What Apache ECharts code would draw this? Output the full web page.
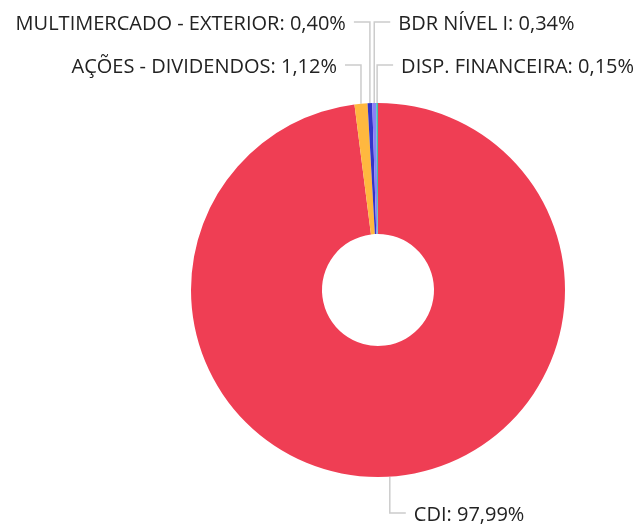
<!DOCTYPE html>
<html>
<head>
<meta charset="utf-8">
<script src="https://cdn.jsdelivr.net/npm/echarts@6/dist/echarts.min.js"></script>
<style>
  html, body { margin: 0; padding: 0; background: #fff; }
  #chart { width: 635px; height: 526px; }
</style>
</head>
<body>
<div id="chart"></div>
<script>
const categories = ['CDI', 'AÇÕES - DIVIDENDOS', 'MULTIMERCADO - EXTERIOR', 'BDR NÍVEL I', 'DISP. FINANCEIRA'];
const values = [97.99, 1.12, 0.40, 0.34, 0.15];
const colors = ['#EF3E54', '#FFB83F', '#3434C8', '#8A80F8', '#3FBFAE'];

// where each label sits: side of the elbow and height of the horizontal segment
const labelSpots = [
    { side: 1, lineY: 513 },
    { side: -1, lineY: 65 },
    { side: -1, lineY: 22 },
    { side: 1, lineY: 22 },
    { side: 1, lineY: 65 }
];

const chart = echarts.init(document.getElementById('chart'));

const option = {
    color: colors,
    series: [
        {
            type: 'pie',
            center: [378, 290],
            radius: [56, 187],
            startAngle: 90,
            clockwise: true,
            avoidLabelOverlap: false,
            label: {
                show: true,
                fontFamily: 'Open Sans',
                fontSize: 20,
                color: '#222',
                formatter: p => p.name + ': ' + p.value.toFixed(2).replace('.', ',') + '%'
            },
            labelLine: {
                length: 15,
                length2: 15,
                lineStyle: { color: '#ccc', width: 1.5 }
            },
            labelLayout: function (params) {
                const spot = labelSpots[params.dataIndex];
                const start = params.labelLinePoints[0];
                const corner = [start[0], spot.lineY];
                const end = [start[0] + spot.side * 16, spot.lineY];
                return {
                    x: end[0] + spot.side * 8,
                    y: spot.lineY + 2,
                    align: spot.side > 0 ? 'left' : 'right',
                    verticalAlign: 'middle',
                    labelLinePoints: [start, corner, end]
                };
            },
            data: categories.map((c, i) => ({ name: c, value: values[i] }))
        }
    ]
};

chart.setOption(option);

window.addEventListener('resize', _ => {
    chart.resize();
});
</script>
</body>
</html>
